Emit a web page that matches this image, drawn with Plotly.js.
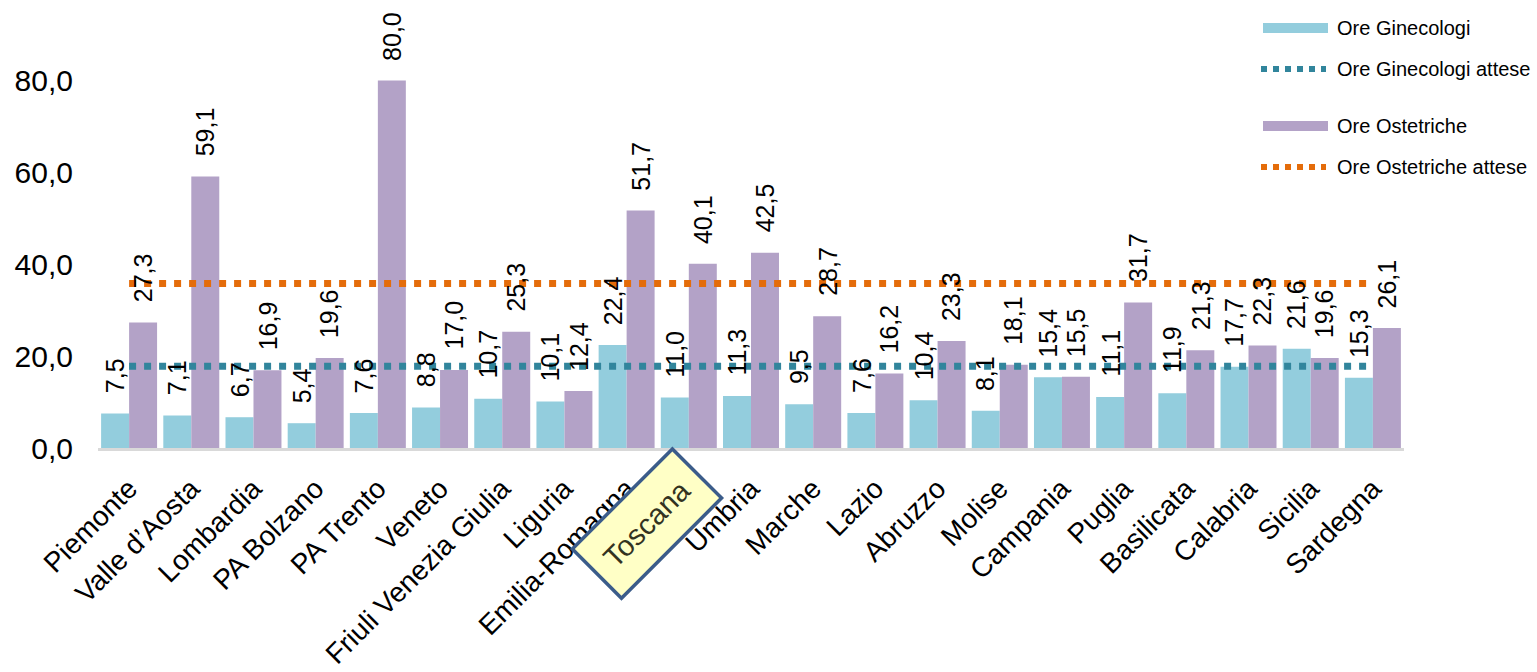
<!DOCTYPE html>
<html>
<head>
<meta charset="utf-8">
<script src="https://cdn.plot.ly/plotly-3.0.1.min.js"></script>
<style>
  html, body { margin: 0; padding: 0; background: #fff; }
  #chart { width: 1537px; height: 672px; }
</style>
</head>
<body>
<div id="chart"></div>
<script>
// ---- DATA ----
const regioni = ["Piemonte", "Valle d’Aosta", "Lombardia", "PA Bolzano", "PA Trento", "Veneto",
  "Friuli Venezia Giulia", "Liguria", "Emilia-Romagna", "Toscana", "Umbria", "Marche", "Lazio",
  "Abruzzo", "Molise", "Campania", "Puglia", "Basilicata", "Calabria", "Sicilia", "Sardegna"];
const oreGinecologi = [7.5, 7.1, 6.7, 5.4, 7.6, 8.8, 10.7, 10.1, 22.4, 11.0, 11.3, 9.5, 7.6,
  10.4, 8.1, 15.4, 11.1, 11.9, 17.7, 21.6, 15.3];
const oreOstetriche = [27.3, 59.1, 16.9, 19.6, 80.0, 17.0, 25.3, 12.4, 51.7, 40.1, 42.5, 28.7, 16.2,
  23.3, 18.1, 15.5, 31.7, 21.3, 22.3, 19.6, 26.1];
const oreGinecologiAttese = [17.8, 17.8, 17.8, 17.8, 17.8, 17.8, 17.8, 17.8, 17.8, 17.8, 17.8,
  17.8, 17.8, 17.8, 17.8, 17.8, 17.8, 17.8, 17.8, 17.8, 17.8];
const oreOstetricheAttese = [35.8, 35.8, 35.8, 35.8, 35.8, 35.8, 35.8, 35.8, 35.8, 35.8, 35.8,
  35.8, 35.8, 35.8, 35.8, 35.8, 35.8, 35.8, 35.8, 35.8, 35.8];
const yTicks = [0, 20, 40, 60, 80];
const evidenziata = "Toscana";
const legendLabels = ["Ore Ginecologi", "Ore Ginecologi attese", "Ore Ostetriche", "Ore Ostetriche attese"];

// ---- STYLE ----
const FONT = "Liberation Sans, Arial, sans-serif";
const C_GIN = "#93CDDD", C_OST = "#B3A2C7", C_GIN_L = "#31859C", C_OST_L = "#E46C0A";
const M = { l: 98, r: 133, t: 30, b: 224 };
const W = 1537, H = 672;
const PW = W - M.l - M.r, PH = H - M.t - M.b;
const px2x = p => (p - M.l) / PW;
const py2y = p => (H - M.b - p) / PH;

const traces = [
  { type: "bar", name: legendLabels[0], x: regioni, y: oreGinecologi,
    marker: { color: C_GIN }, showlegend: false, hoverinfo: "x+y" },
  { type: "bar", name: legendLabels[2], x: regioni, y: oreOstetriche,
    marker: { color: C_OST }, showlegend: false, hoverinfo: "x+y" },
  { type: "scatter", mode: "lines", name: legendLabels[1], x: regioni, y: oreGinecologiAttese,
    line: { color: C_GIN_L, width: 7, dash: "7px,8px" }, showlegend: false },
  { type: "scatter", mode: "lines", name: legendLabels[3], x: regioni, y: oreOstetricheAttese,
    line: { color: C_OST_L, width: 7, dash: "7px,8px" }, showlegend: false }
];

const fmt = v => v.toFixed(1).replace(".", ",");
const annotations = [];
regioni.forEach((r, i) => {
  annotations.push({ x: r, y: oreGinecologi[i], xref: "x", yref: "y", text: fmt(oreGinecologi[i]),
    showarrow: false, textangle: -90, xanchor: "center", yanchor: "bottom", xshift: -14, yshift: 18,
    font: { family: FONT, size: 25, color: "#000" } });
  annotations.push({ x: r, y: oreOstetriche[i], xref: "x", yref: "y", text: fmt(oreOstetriche[i]),
    showarrow: false, textangle: -90, xanchor: "center", yanchor: "bottom", xshift: 14, yshift: 18,
    font: { family: FONT, size: 25, color: "#000" } });
});

// highlighted region label
annotations.push({ x: evidenziata, xref: "x", y: 0, yref: "paper", xshift: -42, yshift: -75,
  text: evidenziata, showarrow: false, textangle: -45, xanchor: "center", yanchor: "middle",
  bgcolor: "#FFFFC6", bordercolor: "#3B5C8A", borderwidth: 3.5, borderpad: 2, width: 134, height: 62,
  font: { family: FONT, size: 29, color: "#33331F" } });

// custom legend
const legendY = [28, 69, 126, 167];
legendLabels.forEach((t, i) => {
  annotations.push({ x: px2x(1335), y: py2y(legendY[i]), xref: "paper", yref: "paper", text: t,
    showarrow: false, xanchor: "left", yanchor: "middle",
    font: { family: FONT, size: 20, color: "#000" } });
});
const shapes = [
  { type: "rect", xref: "paper", yref: "paper", x0: px2x(1263), x1: px2x(1328),
    y0: py2y(33), y1: py2y(23), fillcolor: C_GIN, line: { width: 0 } },
  { type: "rect", xref: "paper", yref: "paper", x0: px2x(1263), x1: px2x(1328),
    y0: py2y(131), y1: py2y(121), fillcolor: C_OST, line: { width: 0 } },
  { type: "line", xref: "paper", yref: "paper", x0: px2x(1261), x1: px2x(1326),
    y0: py2y(69), y1: py2y(69), line: { color: C_GIN_L, width: 6, dash: "6px,6px" } },
  { type: "line", xref: "paper", yref: "paper", x0: px2x(1261), x1: px2x(1326),
    y0: py2y(167), y1: py2y(167), line: { color: C_OST_L, width: 6, dash: "6px,6px" } }
];

const layout = {
  width: W, height: H,
  margin: M,
  paper_bgcolor: "#fff", plot_bgcolor: "#fff",
  separators: ",.",
  barmode: "group", bargap: 0.1, bargroupgap: 0,
  showlegend: false,
  font: { family: FONT, color: "#000" },
  xaxis: {
    type: "category", automargin: false,
    tickmode: "array", tickvals: regioni,
    ticktext: regioni.map(r => r === evidenziata ? "" : r),
    tickangle: -45, tickfont: { family: FONT, size: 28, color: "#000" },
    showgrid: false, zeroline: false,
    showline: true, linecolor: "#D9D9D9", linewidth: 3,
    ticks: "outside", ticklen: 10, tickcolor: "rgba(0,0,0,0)"
  },
  yaxis: {
    range: [0, 91], tickmode: "array", tickvals: yTicks, tickformat: ".1f", automargin: false,
    tickfont: { family: FONT, size: 30, color: "#000" },
    showgrid: false, zeroline: false, showline: false,
    ticks: "outside", ticklen: 18, tickcolor: "rgba(0,0,0,0)"
  },
  annotations: annotations,
  shapes: shapes
};

Plotly.newPlot("chart", traces, layout, { displayModeBar: false, staticPlot: true });
</script>
</body>
</html>
